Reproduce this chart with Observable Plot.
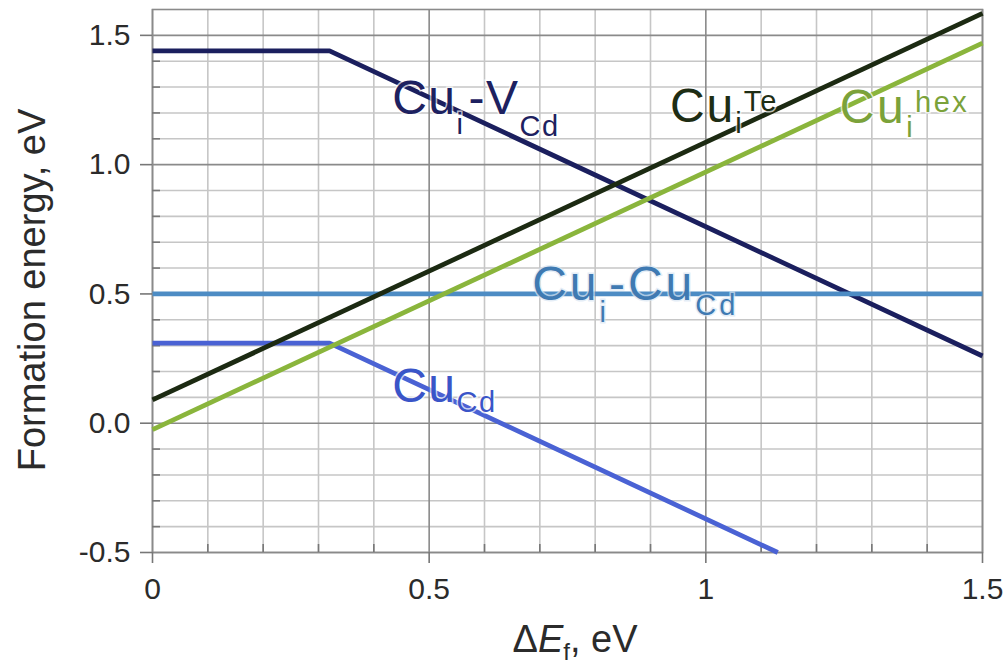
<!DOCTYPE html>
<html>
<head>
<meta charset="utf-8">
<script src="https://cdn.jsdelivr.net/npm/d3@7"></script>
<script src="https://cdn.jsdelivr.net/npm/@observablehq/plot@0.6"></script>
<style>
  html, body { margin: 0; padding: 0; background: #fff; }
  #chart { width: 1008px; height: 665px; }
  svg { font-family: "Liberation Sans", Arial, Helvetica, sans-serif; }
</style>
</head>
<body>
<div id="chart"></div>
<script>
// ---- Data ----
const xTicks = [0, 0.5, 1, 1.5];
const yTicks = [-0.5, 0, 0.5, 1.0, 1.5];
const xMinor = [0.1, 0.2, 0.3, 0.4, 0.6, 0.7, 0.8, 0.9, 1.1, 1.2, 1.3, 1.4];
const yMinor = [-0.4, -0.3, -0.2, -0.1, 0.1, 0.2, 0.3, 0.4, 0.6, 0.7, 0.8, 0.9, 1.1, 1.2, 1.3, 1.4];

const cuiVcdX = [0, 0.32, 1.5];
const cuiVcdY = [1.44, 1.44, 0.26];
const cuiTeX = [0, 1.5];
const cuiTeY = [0.09, 1.585];
const cuiHexX = [0, 1.5];
const cuiHexY = [-0.025, 1.47];
const cuiCuCdX = [0, 1.5];
const cuiCuCdY = [0.5, 0.5];
const cuCdX = [0, 0.32, 1.13];
const cuCdY = [0.31, 0.31, -0.5];

const series = [
  {name: "Cu_i-V_Cd", xs: cuiVcdX, ys: cuiVcdY, color: "#1b1f5e"},
  {name: "Cu_i-Cu_Cd", xs: cuiCuCdX, ys: cuiCuCdY, color: "#4d8cc4"},
  {name: "Cu_Cd", xs: cuCdX, ys: cuCdY, color: "#4a62d4"},
  {name: "Cu_i^hex", xs: cuiHexX, ys: cuiHexY, color: "#8ab53c"},
  {name: "Cu_i^Te", xs: cuiTeX, ys: cuiTeY, color: "#1c2a12"}
];
const toRows = s => s.xs.map((x, i) => ({x, y: s.ys[i], name: s.name}));

const axisStyle = {stroke: "#777", strokeWidth: 1.6, label: null};

const plot = Plot.plot({
  width: 1008,
  height: 665,
  marginLeft: 152,
  marginRight: 26,
  marginTop: 9,
  marginBottom: 113,
  x: {domain: [0, 1.5]},
  y: {domain: [-0.5, 1.6]},
  style: {fontFamily: '"Liberation Sans", Arial, Helvetica, sans-serif', background: "#fff"},
  marks: [
    Plot.ruleX(xMinor, {stroke: "#c6c6c6", strokeWidth: 1.6}),
    Plot.ruleY(yMinor, {stroke: "#c6c6c6", strokeWidth: 1.6}),
    Plot.ruleX(xTicks, {stroke: "#8a8a8a", strokeWidth: 1.6}),
    Plot.ruleY(yTicks, {stroke: "#8a8a8a", strokeWidth: 1.6}),
    Plot.frame({stroke: "#8a8a8a", strokeWidth: 1.6}),
    Plot.axisX(xMinor, {...axisStyle, tickSize: -8, text: null}),
    Plot.axisY(yMinor, {...axisStyle, tickSize: -8, text: null}),
    Plot.axisX(xTicks, {...axisStyle, tickSize: 11, tickPadding: 14, fontSize: 30, fill: "#2b2b2b", tickFormat: d => String(d)}),
    Plot.axisY(yTicks, {...axisStyle, tickSize: 12, tickPadding: 10, fontSize: 30, fill: "#2b2b2b", tickFormat: d => d.toFixed(1)}),
    ...series.map(s => Plot.line(toRows(s), {x: "x", y: "y", stroke: s.color, strokeWidth: 4.8, strokeLinecap: "butt", strokeLinejoin: "round"}))
  ]
});
document.getElementById("chart").appendChild(plot);

// ---- Rich-text annotations positioned through Plot's own scales ----
const sx = plot.scale("x"), sy = plot.scale("y");
const svg = d3.select(plot);
const MAIN = 48, SUB = 29;
function label(x, y, parts, color, halo, spacing) {
  const t = svg.append("text")
    .attr("x", sx.apply(x)).attr("y", sy.apply(y))
    .attr("text-anchor", "start")
    .attr("fill", color)
    .attr("font-size", MAIN)
    .attr("letter-spacing", spacing)
    .attr("stroke", halo).attr("stroke-width", 3).attr("stroke-opacity", 0.7)
    .attr("paint-order", "stroke");
  let shift = 0;
  for (const p of parts) {
    const target = p.off || 0;
    t.append("tspan")
      .attr("dy", target - shift)
      .attr("dx", p.dx || 0)
      .attr("font-size", p.off ? SUB : MAIN)
      .text(p.t);
    shift = target;
  }
}
label(0.434, 1.195, [{t: "Cu"}, {t: "i", off: 20}, {t: "-V", dx: 4}, {t: "Cd", off: 22}], "#1d2160", "#ffffff", 1.5);
label(0.936, 1.162, [{t: "Cu"}, {t: "i", off: 11}, {t: "Te", off: -11}], "#1e2d14", "#ffffff", 2);
label(1.243, 1.158, [{t: "Cu"}, {t: "i", off: 14}, {t: "hex", off: -11}], "#7ba23a", "#ffffff", 2.5);
label(0.687, 0.474, [{t: "Cu"}, {t: "i", off: 22}, {t: "-Cu"}, {t: "Cd", off: 15}], "#3f7ab2", "#d8e6f3", 3);
label(0.434, 0.08, [{t: "Cu"}, {t: "Cd", off: 10}], "#3a55c8", "#ffffff", 1.5);

// Axis titles
svg.append("text")
  .attr("transform", "translate(45,290) rotate(-90)")
  .attr("text-anchor", "middle")
  .attr("font-size", 38)
  .attr("fill", "#2b2b2b")
  .text("Formation energy, eV");
const xt = svg.append("text")
  .attr("x", 575).attr("y", 652)
  .attr("text-anchor", "middle")
  .attr("font-size", 38)
  .attr("fill", "#2b2b2b");
xt.append("tspan").text("\u0394");
xt.append("tspan").attr("font-style", "italic").text("E");
xt.append("tspan").attr("font-size", 24).attr("dy", 8).text("f");
xt.append("tspan").attr("dy", -8).text(", eV");
</script>
</body>
</html>
